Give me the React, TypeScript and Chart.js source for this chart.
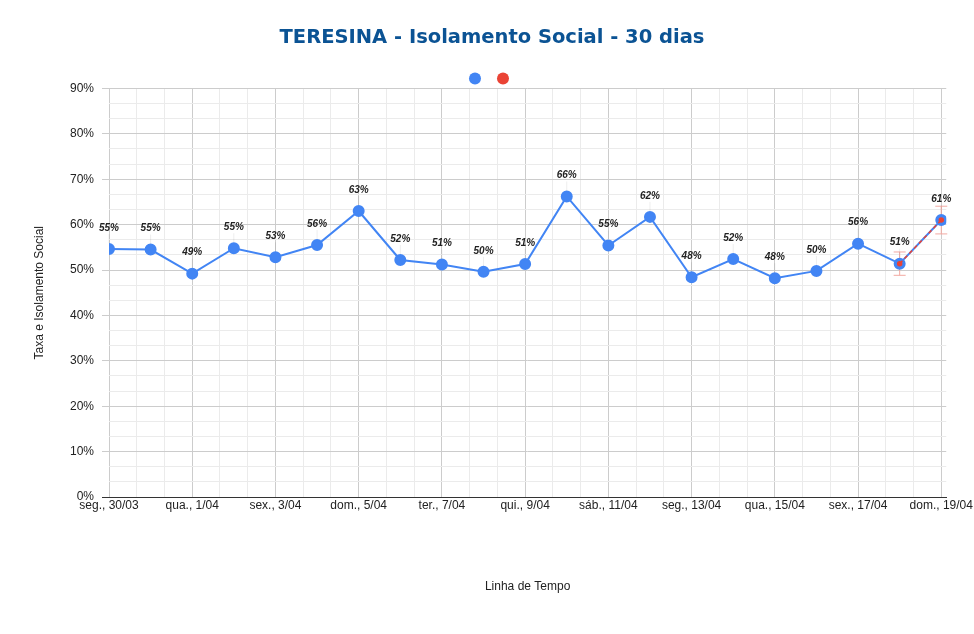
import React, { useEffect, useRef } from 'react';
import Chart from 'chart.js/auto';

const dayLabels = [
  'seg., 30/03', 'ter., 31/03', 'qua., 1/04', 'qui., 2/04', 'sex., 3/04', 'sáb., 4/04',
  'dom., 5/04', 'seg., 6/04', 'ter., 7/04', 'qua., 8/04', 'qui., 9/04', 'sex., 10/04',
  'sáb., 11/04', 'dom., 12/04', 'seg., 13/04', 'ter., 14/04', 'qua., 15/04', 'qui., 16/04',
  'sex., 17/04', 'sáb., 18/04', 'dom., 19/04',
];

// taxa de isolamento (%)
const isolamento = [
  54.6, 54.5, 49.2, 54.8, 52.8, 55.5, 63.0, 52.2, 51.2, 49.6, 51.3,
  66.2, 55.4, 61.7, 48.4, 52.4, 48.2, 49.8, 55.8, 51.4, 61.0,
];

// segunda série: só os dois últimos dias
const ultimosDias: (number | null)[] = [
  null, null, null, null, null, null, null, null, null, null, null,
  null, null, null, null, null, null, null, null, 51.4, 61.0,
];

const errorPct = 5;

const TEXT = '#222222';
const GRID_MAJOR = '#cccccc';
const GRID_MINOR = '#ebebeb';

const valueLabels = {
  id: 'valueLabels',
  afterDatasetsDraw(chart: any) {
    const { ctx } = chart;
    const meta = chart.getDatasetMeta(0);
    ctx.save();
    ctx.font = 'italic bold 10px "Liberation Sans", Arial, sans-serif';
    ctx.fillStyle = TEXT;
    ctx.textAlign = 'center';
    ctx.textBaseline = 'middle';
    meta.data.forEach((pt: any, i: number) => {
      const v = isolamento[i];
      ctx.strokeStyle = 'rgba(0,0,0,0.07)';
      ctx.lineWidth = 1;
      ctx.beginPath();
      ctx.moveTo(pt.x, pt.y - 15);
      ctx.lineTo(pt.x, pt.y - 6);
      ctx.stroke();
      ctx.fillText(`${Math.round(v)}%`, pt.x, pt.y - 21);
    });
    ctx.restore();
  },
};

const errorBars = {
  id: 'errorBars',
  beforeDatasetsDraw(chart: any) {
    const { ctx } = chart;
    const y = chart.scales.y;
    const meta = chart.getDatasetMeta(1);
    ctx.save();
    ctx.strokeStyle = '#f2a9a2';
    ctx.lineWidth = 1;
    meta.data.forEach((pt: any, i: number) => {
      const v = ultimosDias[i];
      if (v == null) return;
      const top = y.getPixelForValue(v * (1 + errorPct / 100));
      const bot = y.getPixelForValue(v * (1 - errorPct / 100));
      ctx.beginPath();
      ctx.moveTo(pt.x, top);
      ctx.lineTo(pt.x, bot);
      ctx.moveTo(pt.x - 6, top);
      ctx.lineTo(pt.x + 6, top);
      ctx.moveTo(pt.x - 6, bot);
      ctx.lineTo(pt.x + 6, bot);
      ctx.stroke();
    });
    ctx.restore();
  },
};

const App: React.FC = () => {
  const canvasRef = useRef<HTMLCanvasElement | null>(null);

  useEffect(() => {
    if (!canvasRef.current) return;
    const axisFont = { family: '"Liberation Sans", Arial, sans-serif', size: 12 };

    const chart = new Chart(canvasRef.current, {
      type: 'line',
      data: {
        datasets: [
          {
            label: 'Isolamento',
            data: isolamento.map((v, i) => ({ x: i, y: v })),
            borderColor: '#4285f4',
            backgroundColor: '#4285f4',
            borderWidth: 2,
            pointRadius: 5,
            pointHoverRadius: 5,
            tension: 0,
            order: 2,
          },
          {
            label: 'Últimos dias',
            data: ultimosDias.map((v, i) => ({ x: i, y: v })),
            borderColor: '#ea4335',
            backgroundColor: '#ea4335',
            borderWidth: 1.5,
            borderDash: [4, 3],
            pointRadius: 2,
            tension: 0,
            order: 1,
          },
        ],
      },
      options: {
        responsive: true,
        maintainAspectRatio: false,
        animation: false,
        layout: { padding: { left: 10, right: 0, top: 0, bottom: 0 } },
        plugins: {
          title: {
            display: true,
            text: 'TERESINA - Isolamento Social - 30 dias',
            color: '#0b5394',
            font: { family: '"DejaVu Sans", sans-serif', size: 19.5, weight: 'bold' },
            padding: { top: 26, bottom: 13 },
          },
          legend: {
            display: true,
            position: 'top',
            maxHeight: 26,
            labels: {
              boxWidth: 12,
              boxHeight: 12,
              useBorderRadius: true,
              borderRadius: 6,
              padding: 10,
              font: axisFont,
              sort: (a: any, b: any) => a.datasetIndex - b.datasetIndex,
              generateLabels: (c: any) =>
                Chart.defaults.plugins.legend.labels
                  .generateLabels(c)
                  .map((l: any) => ({ ...l, text: '', lineWidth: 0 })),
            },
          },
          tooltip: { enabled: false },
        },
        scales: {
          x: {
            type: 'linear',
            min: 0,
            max: 20.12,
            afterBuildTicks: (s: any) => {
              s.ticks = Array.from({ length: 31 }, (_, k) => ({ value: (k * 2) / 3 }));
            },
            afterFit: (s: any) => {
              s.height = 137;
            },
            ticks: {
              autoSkip: false,
              maxRotation: 0,
              padding: 1,
              color: TEXT,
              font: axisFont,
              callback: (_v: any, i: number) => (i % 3 === 0 ? dayLabels[(i / 3) * 2] : ''),
            },
            grid: {
              drawTicks: false,
              color: (c: any) => (c.index % 3 === 0 ? GRID_MAJOR : GRID_MINOR),
            },
            border: { display: true, color: '#333333', width: 1 },
            title: {
              display: true,
              text: 'Linha de Tempo',
              color: TEXT,
              font: axisFont,
              padding: { top: 0, bottom: 40 },
            },
          },
          y: {
            min: 0,
            max: 90,
            afterBuildTicks: (s: any) => {
              s.ticks = Array.from({ length: 28 }, (_, k) => ({ value: (k * 10) / 3 }));
            },
            afterFit: (s: any) => {
              s.width = 99;
            },
            ticks: {
              autoSkip: false,
              padding: 8,
              color: TEXT,
              font: axisFont,
              callback: (v: any, i: number) => (i % 3 === 0 ? `${Math.round(v)}%` : ''),
            },
            grid: {
              tickLength: 7,
              color: (c: any) => (c.index % 3 === 0 ? GRID_MAJOR : GRID_MINOR),
              tickColor: (c: any) =>
                c.index === 0 ? '#333333' : c.index % 3 === 0 ? GRID_MAJOR : 'rgba(0,0,0,0)',
            },
            border: { display: false },
            title: {
              display: true,
              text: 'Taxa e Isolamento Social',
              color: TEXT,
              font: axisFont,
              padding: { top: 22, bottom: 0 },
            },
          },
        },
      },
      plugins: [errorBars, valueLabels],
    });

    return () => {
      chart.destroy();
    };
  }, []);

  return (
    <div style={{ position: 'absolute', left: 0, top: 0, width: 974, height: 634 }}>
      <canvas ref={canvasRef} />
    </div>
  );
};

export default App;
